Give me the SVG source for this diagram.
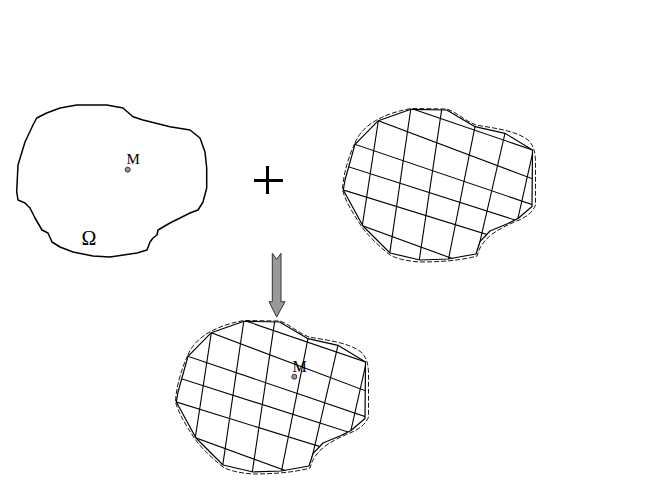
<svg xmlns="http://www.w3.org/2000/svg" xmlns:xlink="http://www.w3.org/1999/xlink" width="655" height="484" viewBox="0 0 655 484">
<defs>
<style>
.outline{fill:none;stroke:#000;stroke-width:1.5;stroke-linejoin:round}
.poly{fill:none;stroke:#000;stroke-width:1.2;stroke-linejoin:round}
.dash{fill:none;stroke:#000;stroke-width:0.9;stroke-dasharray:5 2}
.gl{stroke:#000;stroke-width:1.1;fill:none}
.lbl{font-family:"Liberation Serif","Times New Roman",serif;fill:#000}
.pt{fill:#999;stroke:#333;stroke-width:1}
</style>
<clipPath id="clipBlob">
<polygon points="378.3,120.7 411,109.3 446.7,110 475,126.7 505,133.3 532.5,150 532,206.5 518,218.5 508,223.5 490,231 480,241.7 476,254 448,259 420,260 390,253 363,226 343.3,190 345,180 355,144.3"/>
</clipPath>
<g id="gridBlob">
<path class="dash" d="M355,143 C360,130 375,115 411,108.5 L447,109 C458,113 465,121 476,125 C492,128 515,130 528,140 C534,146 535,152 535.5,160 L535.5,205 C533,212 525,218 518,220.5 C500,228 485,236 479,250 L477,256 C460,261 435,262 420,262 C405,261 395,258 390,255 C375,243 366,233 362,227 C352,212 345,200 342.5,190 C343,175 349,155 355,143 Z"/>
<g clip-path="url(#clipBlob)">
<line class="gl" x1="400" y1="104.6" x2="550" y2="156"/>
<line class="gl" x1="330" y1="102.5" x2="550" y2="185.4"/>
<line class="gl" x1="330" y1="135.8" x2="550" y2="210.6"/>
<line class="gl" x1="330" y1="160.8" x2="550" y2="231.2"/>
<line class="gl" x1="330" y1="185.9" x2="550" y2="254.1"/>
<line class="gl" x1="330" y1="213.9" x2="550" y2="294.2"/>
<line class="gl" x1="381.5" y1="100" x2="355.5" y2="270"/>
<line class="gl" x1="412.1" y1="100" x2="387.3" y2="270"/>
<line class="gl" x1="443.1" y1="100" x2="417.8" y2="270"/>
<line class="gl" x1="480.3" y1="100" x2="446.3" y2="270"/>
<line class="gl" x1="512.7" y1="100" x2="473.4" y2="270"/>
<line class="gl" x1="544.6" y1="100" x2="506.3" y2="270"/>
</g>
<polygon class="poly" points="378.3,120.7 411,109.3 446.7,110 475,126.7 505,133.3 532.5,150 532,206.5 518,218.5 508,223.5 490,231 480,241.7 476,254 448,259 420,260 390,253 363,226 343.3,190 345,180 355,144.3"/>
</g>
</defs>
<rect width="655" height="484" fill="#fff"/>
<g id="domain">
<polygon class="outline" points="16.7,191.7 18,165 25,142 33,125 36.7,118 46.7,113 60,108 76.7,105 106.7,105 123,108 133,116.7 143,120 170,126.7 190,130 200,138 205,152 206.7,168 206.7,188 203,202 198,210 190,213 180,218 170,223 158,230 157,235 153,238 150,242 147,250 137,253 110,257 93,256 73,252 60,247 52,242 48,233 42,230 35,218 30,208 25,203 18,200"/>
<text class="lbl" x="126.5" y="164" font-size="15">M</text>
<circle class="pt" cx="127.7" cy="169.7" r="2.5"/>
<text class="lbl" x="81.5" y="245" font-size="20">Ω</text>
</g>
<g id="plus">
<rect x="254" y="179" width="29" height="3" fill="#000"/>
<rect x="266" y="166" width="3" height="28" fill="#000"/>
</g>
<g id="grid">
<use xlink:href="#gridBlob" href="#gridBlob"/>
</g>
<g id="connectors">
<polygon id="arrow" points="272.3,253.3 276.7,259.3 281,253.3 281,301.7 285,301.7 276.7,317 269,301.7 272.3,301.7" fill="#999" stroke="#333" stroke-width="1"/>
</g>
<g id="result">
<use xlink:href="#gridBlob" href="#gridBlob" transform="translate(-167,212)"/>
<text class="lbl" x="292.5" y="372" font-size="16">M</text>
<circle class="pt" cx="294.3" cy="376.7" r="2.5"/>
</g>
</svg>
